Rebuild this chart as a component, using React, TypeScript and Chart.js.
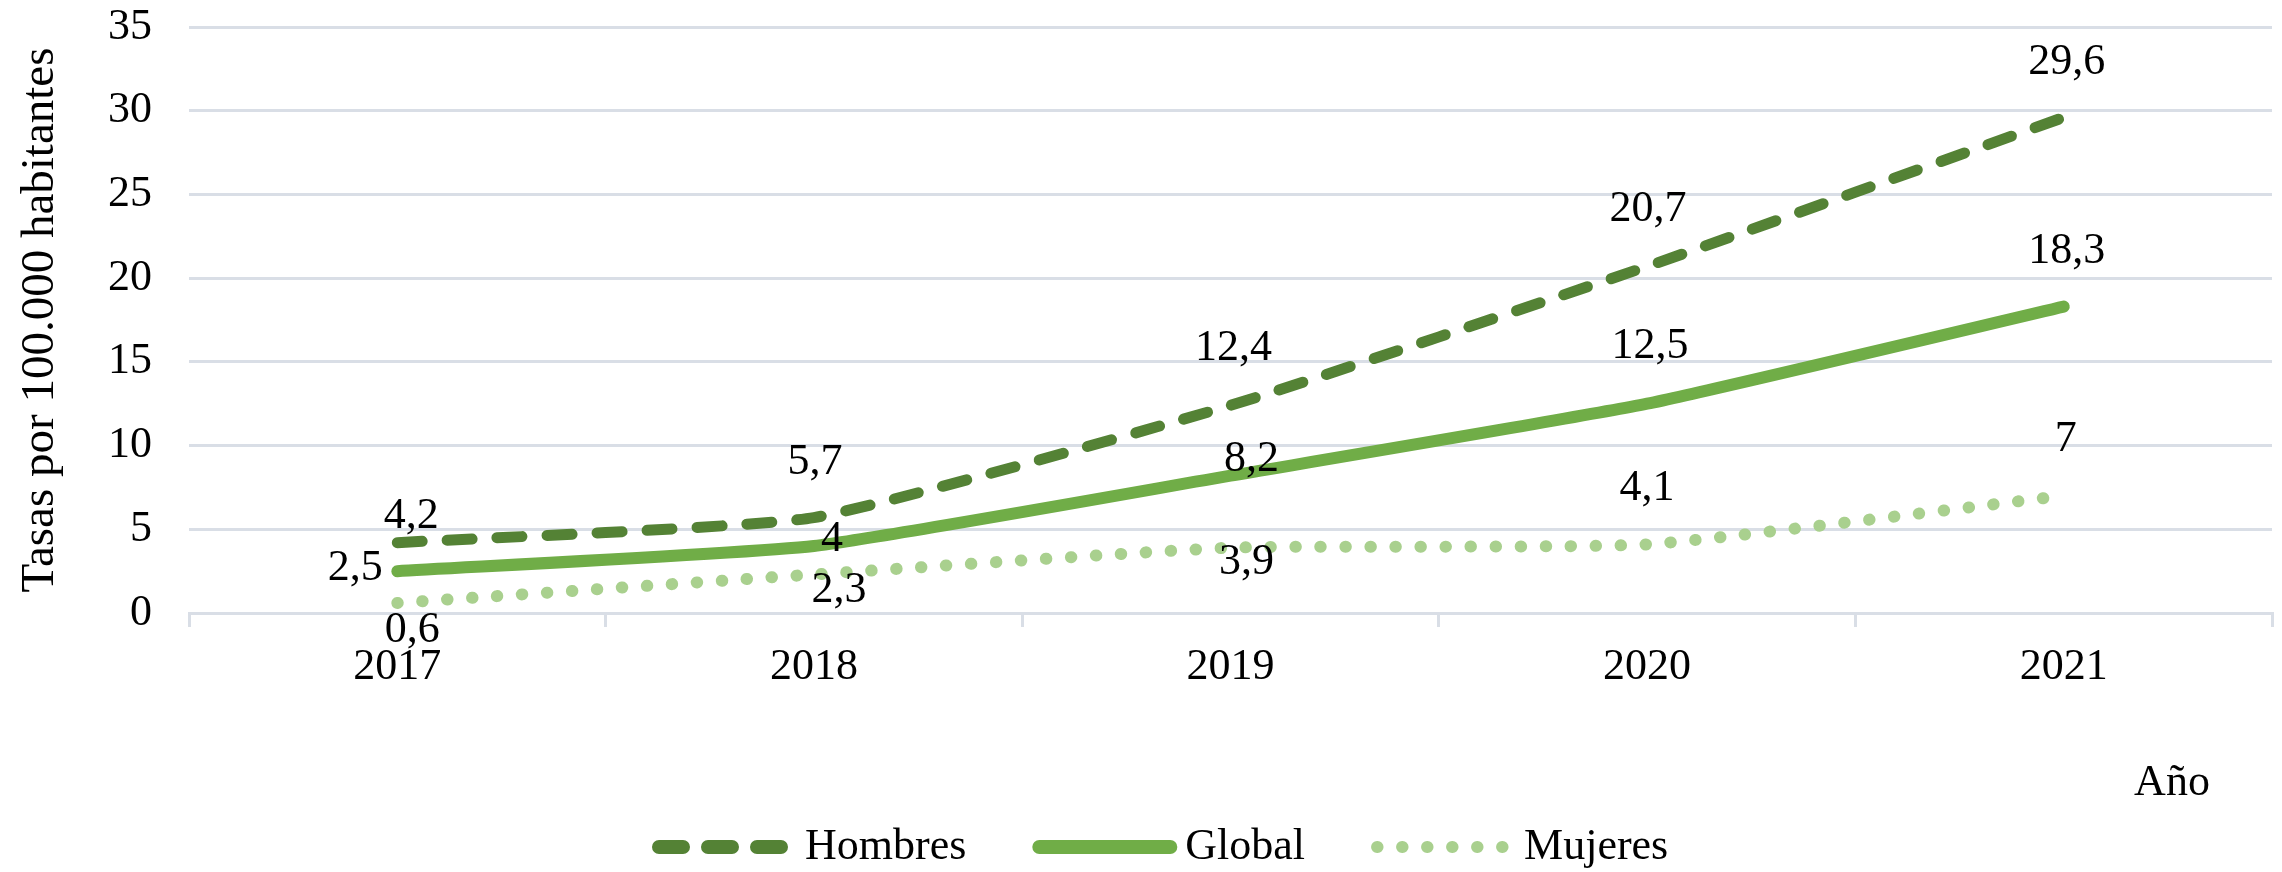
import React, { useEffect, useRef } from 'react';
import { Chart, registerables } from 'chart.js';

Chart.register(...registerables);

// ---- data ----
const categories = ['2017', '2018', '2019', '2020', '2021'];
const seriesNames = ['Hombres', 'Global', 'Mujeres'];
const hombres = [4.2, 5.7, 12.4, 20.7, 29.6];
const globalRate = [2.5, 4, 8.2, 12.5, 18.3];
const mujeres = [0.6, 2.3, 3.9, 4.1, 7];
const yMin = 0;
const yMax = 35;
const yStep = 5;
const yTitle = 'Tasas por 100.000 habitantes';
const xTitle = 'Año';

// ---- styles ----
const FONT = '"Liberation Serif", "Times New Roman", serif';
const FS = 44;
const GRID = '#d9dee6';
const TEXT = '#000000';
const COLORS = ['#548235', '#70AD47', '#A9D08E'];
const WIDTHS = [11, 12, 12];
const DASHES = [[25, 25], [], [0.5, 24.5]];
const LEGEND_DASHES = [[24, 25], [], [0.5, 24.5]];
const LEGEND_WIDTHS = [14, 14, 12];
// label offsets in px relative to each point (dx, dy)
const LABEL_OFFSETS = [
  [[14, -26], [1, -55], [3, -57], [1, -57], [3, -55]],
  [[-42, -3], [18, -7], [21, -16], [3, -57], [3, -55]],
  [[15, 27], [25, 16], [16, 15], [0, -56], [2, -56]],
];

const fmt = (v: number) => String(v).replace('.', ',');

const valueLabels = {
  id: 'valueLabels',
  afterDatasetsDraw(chart: any) {
    const ctx = chart.ctx;
    ctx.save();
    ctx.font = `${FS}px ${FONT}`;
    ctx.fillStyle = TEXT;
    ctx.textAlign = 'center';
    ctx.textBaseline = 'middle';
    chart.data.datasets.forEach((ds: any, i: number) => {
      const meta = chart.getDatasetMeta(i);
      meta.data.forEach((pt: any, j: number) => {
        const [dx, dy] = LABEL_OFFSETS[i][j];
        ctx.fillText(fmt(ds.data[j]), pt.x + dx, pt.y + dy);
      });
    });
    ctx.restore();
  },
  afterDraw(chart: any) {
    const ctx = chart.ctx;
    const area = chart.chartArea;
    ctx.save();
    ctx.font = `${FS}px ${FONT}`;
    ctx.fillStyle = TEXT;
    ctx.textAlign = 'center';
    ctx.textBaseline = 'middle';
    ctx.fillText(xTitle, area.right - 100, area.bottom + 170);

    // legend
    const symW = 145;
    const gap = 8;
    const spacing = 66;
    const y = area.bottom + 234;
    let x = area.left + 463;
    ctx.textAlign = 'left';
    chart.data.datasets.forEach((ds: any, i: number) => {
      const lw = LEGEND_WIDTHS[i];
      ctx.save();
      ctx.strokeStyle = COLORS[i];
      ctx.lineWidth = lw;
      ctx.lineCap = 'round';
      ctx.setLineDash(LEGEND_DASHES[i]);
      ctx.beginPath();
      ctx.moveTo(x + lw / 2, y);
      ctx.lineTo(x + symW - lw / 2, y);
      ctx.stroke();
      ctx.restore();
      ctx.fillText(ds.label, x + symW + gap, y);
      x += symW + gap + ctx.measureText(ds.label).width + spacing;
    });
    ctx.restore();
  },
};

export default function App() {
  const ref = useRef<HTMLCanvasElement | null>(null);

  useEffect(() => {
    document.body.style.margin = '0';
    document.body.style.overflow = 'hidden';
    if (!ref.current) return;
    const series = [hombres, globalRate, mujeres];
    const chart = new Chart(ref.current, {
      type: 'line',
      data: {
        labels: categories,
        datasets: series.map((d, i) => ({
          label: seriesNames[i],
          data: d,
          borderColor: COLORS[i],
          backgroundColor: COLORS[i],
          borderWidth: WIDTHS[i],
          borderDash: DASHES[i],
          borderCapStyle: 'round',
          borderJoinStyle: 'round',
          pointRadius: 0,
          pointHoverRadius: 0,
          tension: 0.15,
          fill: false,
        })),
      },
      options: {
        animation: false,
        responsive: false,
        layout: { padding: { top: 27, right: 10, left: 0, bottom: 0 } },
        plugins: {
          tooltip: { enabled: false },
          legend: { display: false },
        },
        scales: {
          x: {
            offset: true,
            grid: {
              display: true,
              drawOnChartArea: false,
              drawTicks: true,
              tickLength: 14,
              color: GRID,
              lineWidth: 3,
              offset: true,
            },
            border: { display: true, color: GRID, width: 3 },
            ticks: {
              color: TEXT,
              font: { size: FS, family: FONT },
              padding: 14,
              maxRotation: 0,
              autoSkip: false,
            },
            afterFit: (s: any) => {
              s.height = 259;
            },
          },
          y: {
            min: yMin,
            max: yMax,
            ticks: {
              stepSize: yStep,
              color: TEXT,
              font: { size: FS, family: FONT },
              padding: 37,
            },
            grid: { color: GRID, lineWidth: 3, drawTicks: false },
            border: { display: false },
            title: {
              display: true,
              text: yTitle,
              color: TEXT,
              font: { size: 47, family: FONT },
              padding: { top: 12, bottom: 0 },
            },
            afterFit: (s: any) => {
              s.width = 189;
              s.paddingTop = 0;
              s.paddingBottom = 0;
            },
          },
        },
      },
      plugins: [valueLabels],
    } as any);
    return () => chart.destroy();
  }, []);

  return (
    <div style={{ width: 2282, height: 872 }}>
      <canvas ref={ref} width={2282} height={872} style={{ display: 'block' }} />
    </div>
  );
}
